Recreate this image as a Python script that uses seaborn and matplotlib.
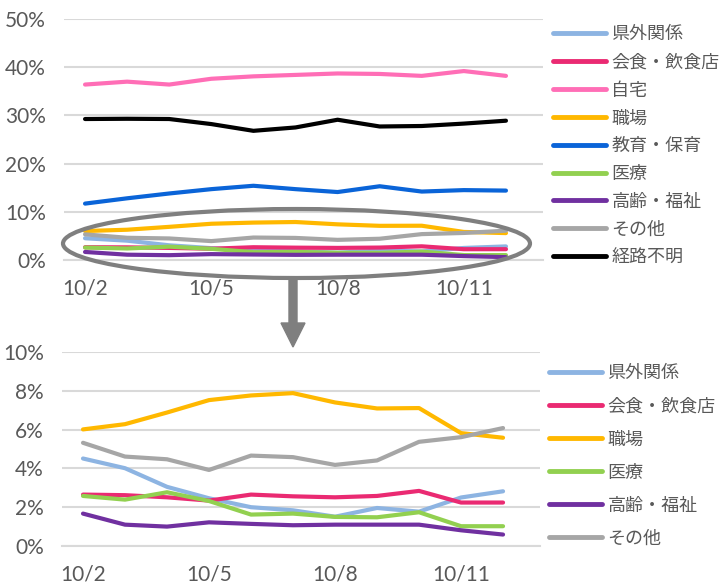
import numpy as np
import pandas as pd
import matplotlib
matplotlib.use("Agg")
import matplotlib.pyplot as plt
from matplotlib.patches import Ellipse, FancyArrow
from matplotlib.lines import Line2D
import seaborn as sns

dates = ["10/2", "10/3", "10/4", "10/5", "10/6", "10/7", "10/8", "10/9", "10/10", "10/11", "10/12"]
tick_labels = ["10/2", "10/5", "10/8", "10/11"]

kengai = [4.51, 4.01, 3.05, 2.46, 2.00, 1.84, 1.51, 1.96, 1.77, 2.50, 2.82]
kaishoku = [2.65, 2.62, 2.51, 2.34, 2.65, 2.56, 2.51, 2.58, 2.84, 2.24, 2.24]
jitaku = [36.4, 37.0, 36.4, 37.6, 38.1, 38.4, 38.7, 38.6, 38.2, 39.2, 38.2]
shokuba = [6.01, 6.28, 6.88, 7.52, 7.76, 7.88, 7.40, 7.09, 7.11, 5.82, 5.58]
kyoiku = [11.7, 12.8, 13.8, 14.7, 15.4, 14.7, 14.1, 15.3, 14.2, 14.5, 14.4]
iryo = [2.58, 2.39, 2.77, 2.32, 1.62, 1.67, 1.50, 1.48, 1.74, 1.02, 1.02]
korei = [1.67, 1.10, 1.00, 1.22, 1.14, 1.07, 1.10, 1.10, 1.10, 0.81, 0.59]
sonota = [5.32, 4.61, 4.47, 3.92, 4.66, 4.58, 4.18, 4.41, 5.37, 5.61, 6.08]
fumei = [29.25, 29.3, 29.25, 28.2, 26.8, 27.5, 29.1, 27.7, 27.8, 28.3, 28.9]

top_names = ["県外関係", "会食・飲食店", "自宅", "職場", "教育・保育", "医療", "高齢・福祉", "その他", "経路不明"]
top_values = [kengai, kaishoku, jitaku, shokuba, kyoiku, iryo, korei, sonota, fumei]
bottom_names = ["県外関係", "会食・飲食店", "職場", "医療", "高齢・福祉", "その他"]

colors = {
    "県外関係": "#8db4e2",
    "会食・飲食店": "#ea2a72",
    "自宅": "#ff6eb6",
    "職場": "#ffb800",
    "教育・保育": "#0a64d8",
    "医療": "#92d050",
    "高齢・福祉": "#7030a0",
    "その他": "#a6a6a6",
    "経路不明": "#000000",
}

rows = []
for name, vals in zip(top_names, top_values):
    for i, v in enumerate(vals):
        rows.append({"series": name, "idx": i, "date": dates[i], "value": v})
df = pd.DataFrame(rows)

sns.set_style("white")
plt.rcParams["font.family"] = ["Lato", "Noto Sans CJK JP", "DejaVu Sans"]

W, H = 722, 584
fig = plt.figure(figsize=(W / 100, H / 100), dpi=100)

def px_axes(l, r, t, b):
    return fig.add_axes([l / W, 1 - b / H, (r - l) / W, (b - t) / H])

ax1 = px_axes(64, 543, 19, 260)
ax2 = px_axes(62, 540, 352, 546)

grid_c = "#d9d9d9"
txt_c = "#595959"

def style(ax, ymax, step):
    ax.set_xlim(-0.5, 10.88)
    ax.set_ylim(0, ymax)
    yt = np.arange(0, ymax + 0.01, step)
    ax.set_yticks(yt)
    ax.set_yticklabels([f"{int(v)}%" for v in yt])
    ax.set_xticks([0, 3, 6, 9])
    ax.set_xticklabels(tick_labels)
    ax.set_xticks([-0.5, 2.5, 5.5, 8.5], minor=True)
    ax.grid(axis="y", color=grid_c, linewidth=1.5)
    ax.grid(axis="x", visible=False)
    ax.set_axisbelow(True)
    for s in ["top", "right", "left"]:
        ax.spines[s].set_visible(False)
    ax.spines["bottom"].set_color(grid_c)
    ax.spines["bottom"].set_linewidth(1.5)
    ax.tick_params(axis="y", length=0, pad=13, labelsize=15, labelcolor=txt_c)
    ax.tick_params(axis="x", which="major", length=0, pad=13, labelsize=15, labelcolor=txt_c)
    ax.tick_params(axis="x", which="minor", length=5, width=1.5, color=grid_c)
    ax.set_xlabel("")
    ax.set_ylabel("")

sns.lineplot(data=df, x="idx", y="value", hue="series", hue_order=top_names,
             palette=colors, linewidth=3, ax=ax1, legend=False)
dfb = df[df["series"].isin(bottom_names)]
sns.lineplot(data=dfb, x="idx", y="value", hue="series", hue_order=bottom_names,
             palette=colors, linewidth=3, ax=ax2, legend=False)
for ax in (ax1, ax2):
    for ln in ax.lines:
        ln.set_solid_capstyle("round")

style(ax1, 50, 10)
style(ax2, 10, 2)

h1 = [Line2D([], [], color=colors[n], lw=3.5) for n in top_names]
fig.legend(h1, top_names, loc="upper left", bbox_to_anchor=(553 / W, 1 - 26 / H),
           frameon=False, fontsize=13, handlelength=2.95, handletextpad=0.28,
           labelspacing=0.65, borderpad=0, borderaxespad=0, labelcolor=txt_c)
h2 = [Line2D([], [], color=colors[n], lw=3.5) for n in bottom_names]
fig.legend(h2, bottom_names, loc="upper left", bbox_to_anchor=(549 / W, 1 - 365 / H),
           frameon=False, fontsize=13, handlelength=2.95, handletextpad=0.28,
           labelspacing=0.94, borderpad=0, borderaxespad=0, labelcolor=txt_c)

# highlight ellipse around the low series
ell = Ellipse((296.5 / 100, (H - 243.5) / 100), 4.67, 0.69, fill=False,
              edgecolor="#7f7f7f", linewidth=3, transform=fig.dpi_scale_trans, clip_on=False)
fig.patches.append(ell)
arr = FancyArrow(2.93, (H - 277) / 100, 0, -0.70, width=0.08, head_width=0.24, head_length=0.24,
                 length_includes_head=True, color="#7f7f7f", transform=fig.dpi_scale_trans)
fig.patches.append(arr)

fig.savefig("out.png", dpi=100)
